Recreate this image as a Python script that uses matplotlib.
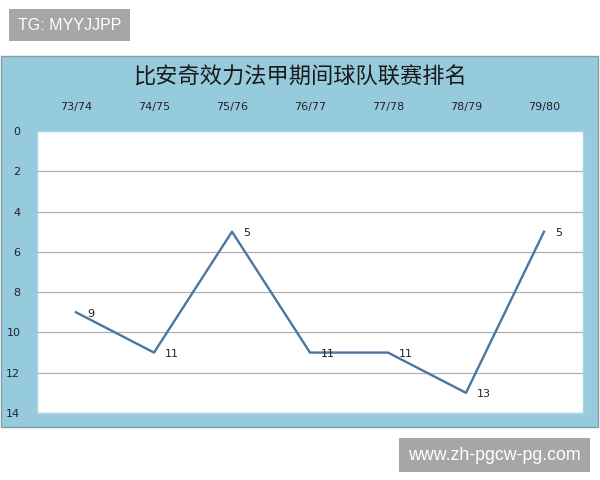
import matplotlib
matplotlib.use('Agg')
import matplotlib.pyplot as plt
from matplotlib.patches import Rectangle

plt.rcParams['font.family'] = ['Noto Sans CJK SC', 'DejaVu Sans']

# data
seasons = ['73/74', '74/75', '75/76', '76/77', '77/78', '78/79', '79/80']
ranks = [9, 11, 5, 11, 11, 13, 5]
title = '比安奇效力法甲期间球队联赛排名'

fig = plt.figure(figsize=(6, 4.8), dpi=100)
fig.patch.set_facecolor('white')

# light blue chart box
box = Rectangle((0.002, 1 - 427 / 480), 0.995, (427 - 56) / 480,
                transform=fig.transFigure, facecolor='#96cbde',
                edgecolor='#8a9aa4', linewidth=1.0, zorder=-1)
fig.patches.append(box)

ax = fig.add_axes([37 / 600, 1 - 413 / 480, 546 / 600, 282 / 480])
ax.set_zorder(2)
ax.set_facecolor('white')
x = list(range(len(seasons)))
ax.plot(x, ranks, color='#4a76a0', linewidth=1.7, zorder=3)
for xi, r in zip(x, ranks):
    ax.annotate(str(r), (xi, r), xytext=(8, -1), textcoords='offset points',
                ha='left', va='center', fontsize=8, color='#222222',
                family=['DejaVu Sans'])

ax.set_xlim(-0.5, 6.5)
ax.set_ylim(14, 0)
ax.set_yticks(range(0, 15, 2))
ax.set_xticks(x)
ax.set_xticklabels(seasons)
ax.xaxis.tick_top()
ax.tick_params(axis='both', length=0, labelsize=8, colors='#222222')
ax.tick_params(axis='x', pad=14)
ax.tick_params(axis='y', pad=12)
for lab in ax.get_xticklabels() + ax.get_yticklabels():
    lab.set_family(['DejaVu Sans'])
ax.grid(axis='y', color='#b0b0b0', linewidth=0.9)
ax.set_axisbelow(True)
for s in ax.spines.values():
    s.set_color('#a8d4e4')
    s.set_linewidth(1.0)

fig.text(0.5, 1 - 77 / 480, title, ha='center', va='center', fontsize=16,
         color='#1a1a1a')

# watermark boxes
fig.text(18 / 600, 1 - 25 / 480, 'TG: MYYJJPP', ha='left', va='center',
         fontsize=11.5, color='white', family=['Liberation Sans'],
         bbox=dict(boxstyle='square,pad=0.55', facecolor='#a6a6a6', edgecolor='none'))
fig.text(581 / 600, 1 - 455 / 480, 'www.zh-pgcw-pg.com', ha='right', va='center',
         fontsize=12.8, color='white', family=['Liberation Sans'],
         bbox=dict(boxstyle='square,pad=0.5', facecolor='#a6a6a6', edgecolor='none'))

fig.savefig('out.png', dpi=100)
